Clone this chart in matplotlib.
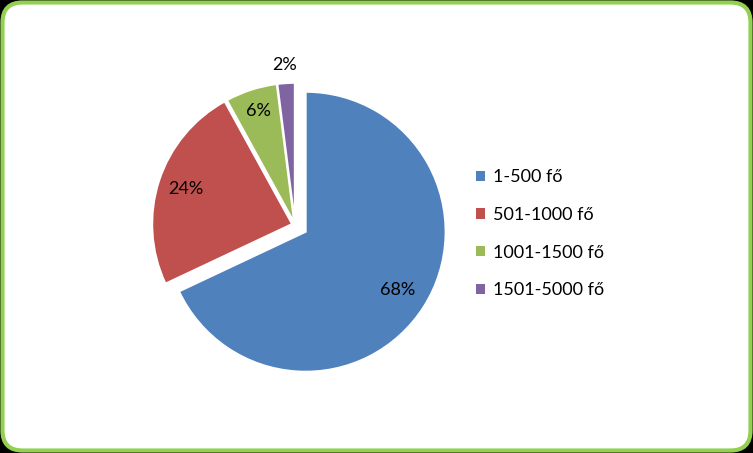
import numpy as np
import matplotlib
matplotlib.use("Agg")
import matplotlib.pyplot as plt
from matplotlib.patches import FancyBboxPatch

categories = ["1-500 fő", "501-1000 fő", "1001-1500 fő", "1501-5000 fő"]
values = [68, 24, 6, 2]
pct_labels = ["68%", "24%", "6%", "2%"]

colors = ["#4F81BD", "#C0504D", "#9BBB59", "#8064A2"]
explode = [12.6, 3.0, 2.2, 2.2]
label_dist = [0.78, 0.80, 0.84, 1.13]

plt.rcParams['font.family'] = ['Lato', 'DejaVu Sans']

W, H = 753, 453
fig = plt.figure(figsize=(W / 100, H / 100), dpi=100)
fig.patch.set_facecolor("black")
ax = fig.add_axes([0, 0, 1, 1])

box = FancyBboxPatch((2.5, 2.5), W - 5, H - 5,
                     boxstyle="round,pad=0,rounding_size=20",
                     facecolor="white", edgecolor="#92D050",
                     linewidth=3.0, zorder=0)
ax.add_patch(box)

wedges, _ = ax.pie(values, colors=colors, explode=explode,
                   startangle=90, counterclock=False,
                   center=(295, H - 225), radius=140,
                   wedgeprops=dict(edgecolor="white", linewidth=1.5),
                   frame=True)
ax.set_xlim(0, W)
ax.set_ylim(0, H)
ax.set_aspect("equal")
ax.axis("off")

for w, lab, f in zip(wedges, pct_labels, label_dist):
    mid = np.deg2rad((w.theta1 + w.theta2) / 2)
    cx, cy = w.center
    ax.text(cx + f * w.r * np.cos(mid), cy + f * w.r * np.sin(mid), lab,
            ha="center", va="center", fontsize=13, color="black", zorder=5)

leg = ax.legend(wedges, categories, loc="upper left",
                bbox_to_anchor=(460 / W, 1 - 153 / H),
                frameon=False, fontsize=13, handlelength=0.5,
                handleheight=0.5, handletextpad=0.45, labelspacing=1.2)
for h in leg.legend_handles:
    h.set_edgecolor("none")

fig.savefig("out.png", dpi=100, facecolor=fig.get_facecolor())
